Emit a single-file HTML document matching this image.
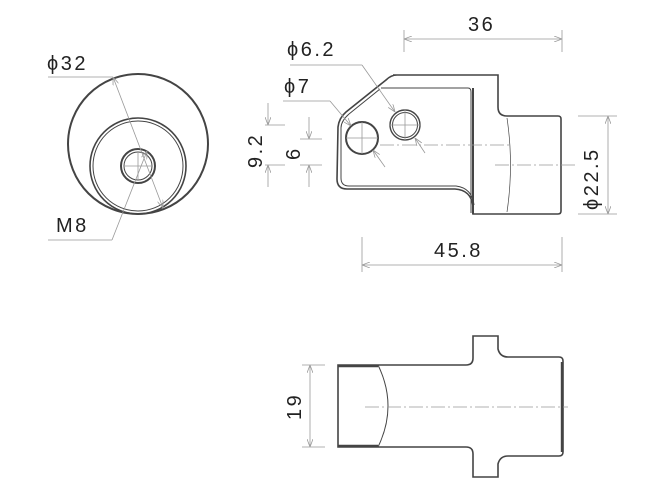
<!DOCTYPE html>
<html><head><meta charset="utf-8"><style>
html,body{margin:0;padding:0;background:#fff}
svg{display:block}
text{font-family:"Liberation Sans",sans-serif;font-size:20px;fill:#222;letter-spacing:2.5px}
</style></head><body>
<svg width="672" height="487" viewBox="0 0 672 487" xmlns="http://www.w3.org/2000/svg">
<defs>
<marker id="a" markerWidth="8" markerHeight="6" refX="8" refY="3" orient="auto-start-reverse" markerUnits="userSpaceOnUse"><path d="M0,0 L8,3 L0,6" fill="none" stroke="#999" stroke-width="0.8"/></marker>
</defs>
<g fill="none" stroke="#444" stroke-width="1.6">
<circle cx="138" cy="144" r="70" stroke-width="2"/>
<circle cx="138" cy="166" r="48"/>
<circle cx="138" cy="166" r="45" stroke-width="1"/>
<circle cx="138" cy="166" r="17" stroke-width="2"/>
<circle cx="138" cy="166" r="14" stroke-width="1"/>
</g>
<g fill="none" stroke="#999" stroke-width="0.8">
<line x1="48" y1="77" x2="113" y2="77"/>
<line x1="113" y1="77" x2="163" y2="208" marker-start="url(#a)" marker-end="url(#a)"/>
<line x1="147" y1="151" x2="112" y2="240" marker-start="url(#a)"/>
<line x1="48" y1="240" x2="112" y2="240"/>
<line x1="124" y1="166" x2="152" y2="166"/>
<line x1="138" y1="152" x2="138" y2="180"/>
</g>
<text x="47" y="70">ϕ32</text>
<text x="56" y="232">M8</text>

<g fill="none" stroke="#444" stroke-width="1.6">
<path d="M393,75 L498,75 L498,107 Q498,116 507,116 L558,116 Q561,116 561,119 L561,211 Q561,214 558,214 L473,214 L473,206 Q471,190 455,189 L347,189 Q337,189 337,179 L338,127 Q339,118 346,112 L386,80 Q391,75 397,75"/>
<path d="M381,88 L468,88 Q471,88 471,92 L471,213 M380,89 L349,114 Q341,121 341,128 L341,178 Q341,186 349,186 L456,186 Q472,188 474,205" stroke-width="1"/>
<line x1="473" y1="88" x2="473" y2="214" stroke-width="2"/>
<path d="M507,118 Q514,165 507,212" stroke-width="0.7"/>
<circle cx="362" cy="138" r="16" stroke-width="2"/>
<circle cx="405" cy="125" r="15" stroke-width="1.4"/>
<circle cx="405" cy="125" r="12.5" stroke-width="1"/>
</g>
<g fill="none" stroke="#999" stroke-width="0.8">
<line x1="346" y1="138" x2="378" y2="138"/><line x1="362" y1="122" x2="362" y2="154"/>
<line x1="389" y1="125" x2="421" y2="125"/><line x1="405" y1="109" x2="405" y2="141"/>
<line x1="380" y1="145" x2="510" y2="145" stroke-dasharray="14,3,2,3"/>
<line x1="495" y1="165" x2="578" y2="165" stroke-dasharray="14,3,2,3"/>
<line x1="404" y1="30" x2="404" y2="52"/><line x1="562" y1="30" x2="562" y2="52"/>
<line x1="404" y1="39" x2="562" y2="39" marker-start="url(#a)" marker-end="url(#a)"/>
<line x1="290" y1="65" x2="362" y2="65"/>
<line x1="362" y1="65" x2="395" y2="112" marker-end="url(#a)"/>
<line x1="415" y1="138" x2="425" y2="153" marker-start="url(#a)"/>
<line x1="283" y1="101" x2="330" y2="101"/>
<line x1="330" y1="101" x2="351" y2="126" marker-end="url(#a)"/>
<line x1="373" y1="150" x2="385" y2="167" marker-start="url(#a)"/>
<line x1="265" y1="125" x2="285" y2="125"/><line x1="265" y1="165" x2="285" y2="165"/>
<line x1="268" y1="103" x2="268" y2="125" marker-end="url(#a)"/>
<line x1="268" y1="165" x2="268" y2="187" marker-start="url(#a)"/>
<line x1="300" y1="139" x2="322" y2="139"/><line x1="300" y1="165" x2="322" y2="165"/>
<line x1="309" y1="117" x2="309" y2="139" marker-end="url(#a)"/>
<line x1="309" y1="165" x2="309" y2="187" marker-start="url(#a)"/>
<line x1="578" y1="116" x2="617" y2="116"/><line x1="578" y1="214" x2="617" y2="214"/>
<line x1="608" y1="116" x2="608" y2="214" marker-start="url(#a)" marker-end="url(#a)"/>
<line x1="362" y1="237" x2="362" y2="272"/><line x1="562" y1="237" x2="562" y2="272"/>
<line x1="362" y1="265" x2="562" y2="265" marker-start="url(#a)" marker-end="url(#a)"/>
</g>
<text x="468" y="31">36</text>
<text x="287" y="56">ϕ6.2</text>
<text x="284" y="93">ϕ7</text>
<text x="434" y="257">45.8</text>
<text transform="translate(262,168) rotate(-90)">9.2</text>
<text transform="translate(300,160) rotate(-90)">6</text>
<text transform="translate(598,210) rotate(-90)">ϕ22.5</text>

<g fill="none" stroke="#444" stroke-width="1.6">
<path d="M338,365 L466,365 Q473,365 473,358 L473,336 L498,336 L498,349 Q500,357 508,357 L559,357 Q563,357 563,361 L563,452 Q563,456 559,456 L508,456 Q500,456 498,464 L498,477 L473,477 L473,454 Q473,447 466,447 L338,447 Z"/>
<line x1="338" y1="366" x2="378" y2="366" stroke-width="2.4"/>
<line x1="338" y1="446" x2="378" y2="446" stroke-width="2.4"/>
<line x1="562" y1="362" x2="562" y2="452" stroke-width="2.4"/>
<path d="M378,365 Q398,406 378,447" stroke-width="1"/>
</g>
<g fill="none" stroke="#999" stroke-width="0.8">
<line x1="365" y1="407" x2="568" y2="407" stroke-dasharray="14,3,2,3"/>
<line x1="302" y1="365" x2="325" y2="365"/><line x1="302" y1="447" x2="325" y2="447"/>
<line x1="310" y1="365" x2="310" y2="447" marker-start="url(#a)" marker-end="url(#a)"/>
</g>
<text transform="translate(301,420) rotate(-90)">19</text>
</svg>
</body></html>
